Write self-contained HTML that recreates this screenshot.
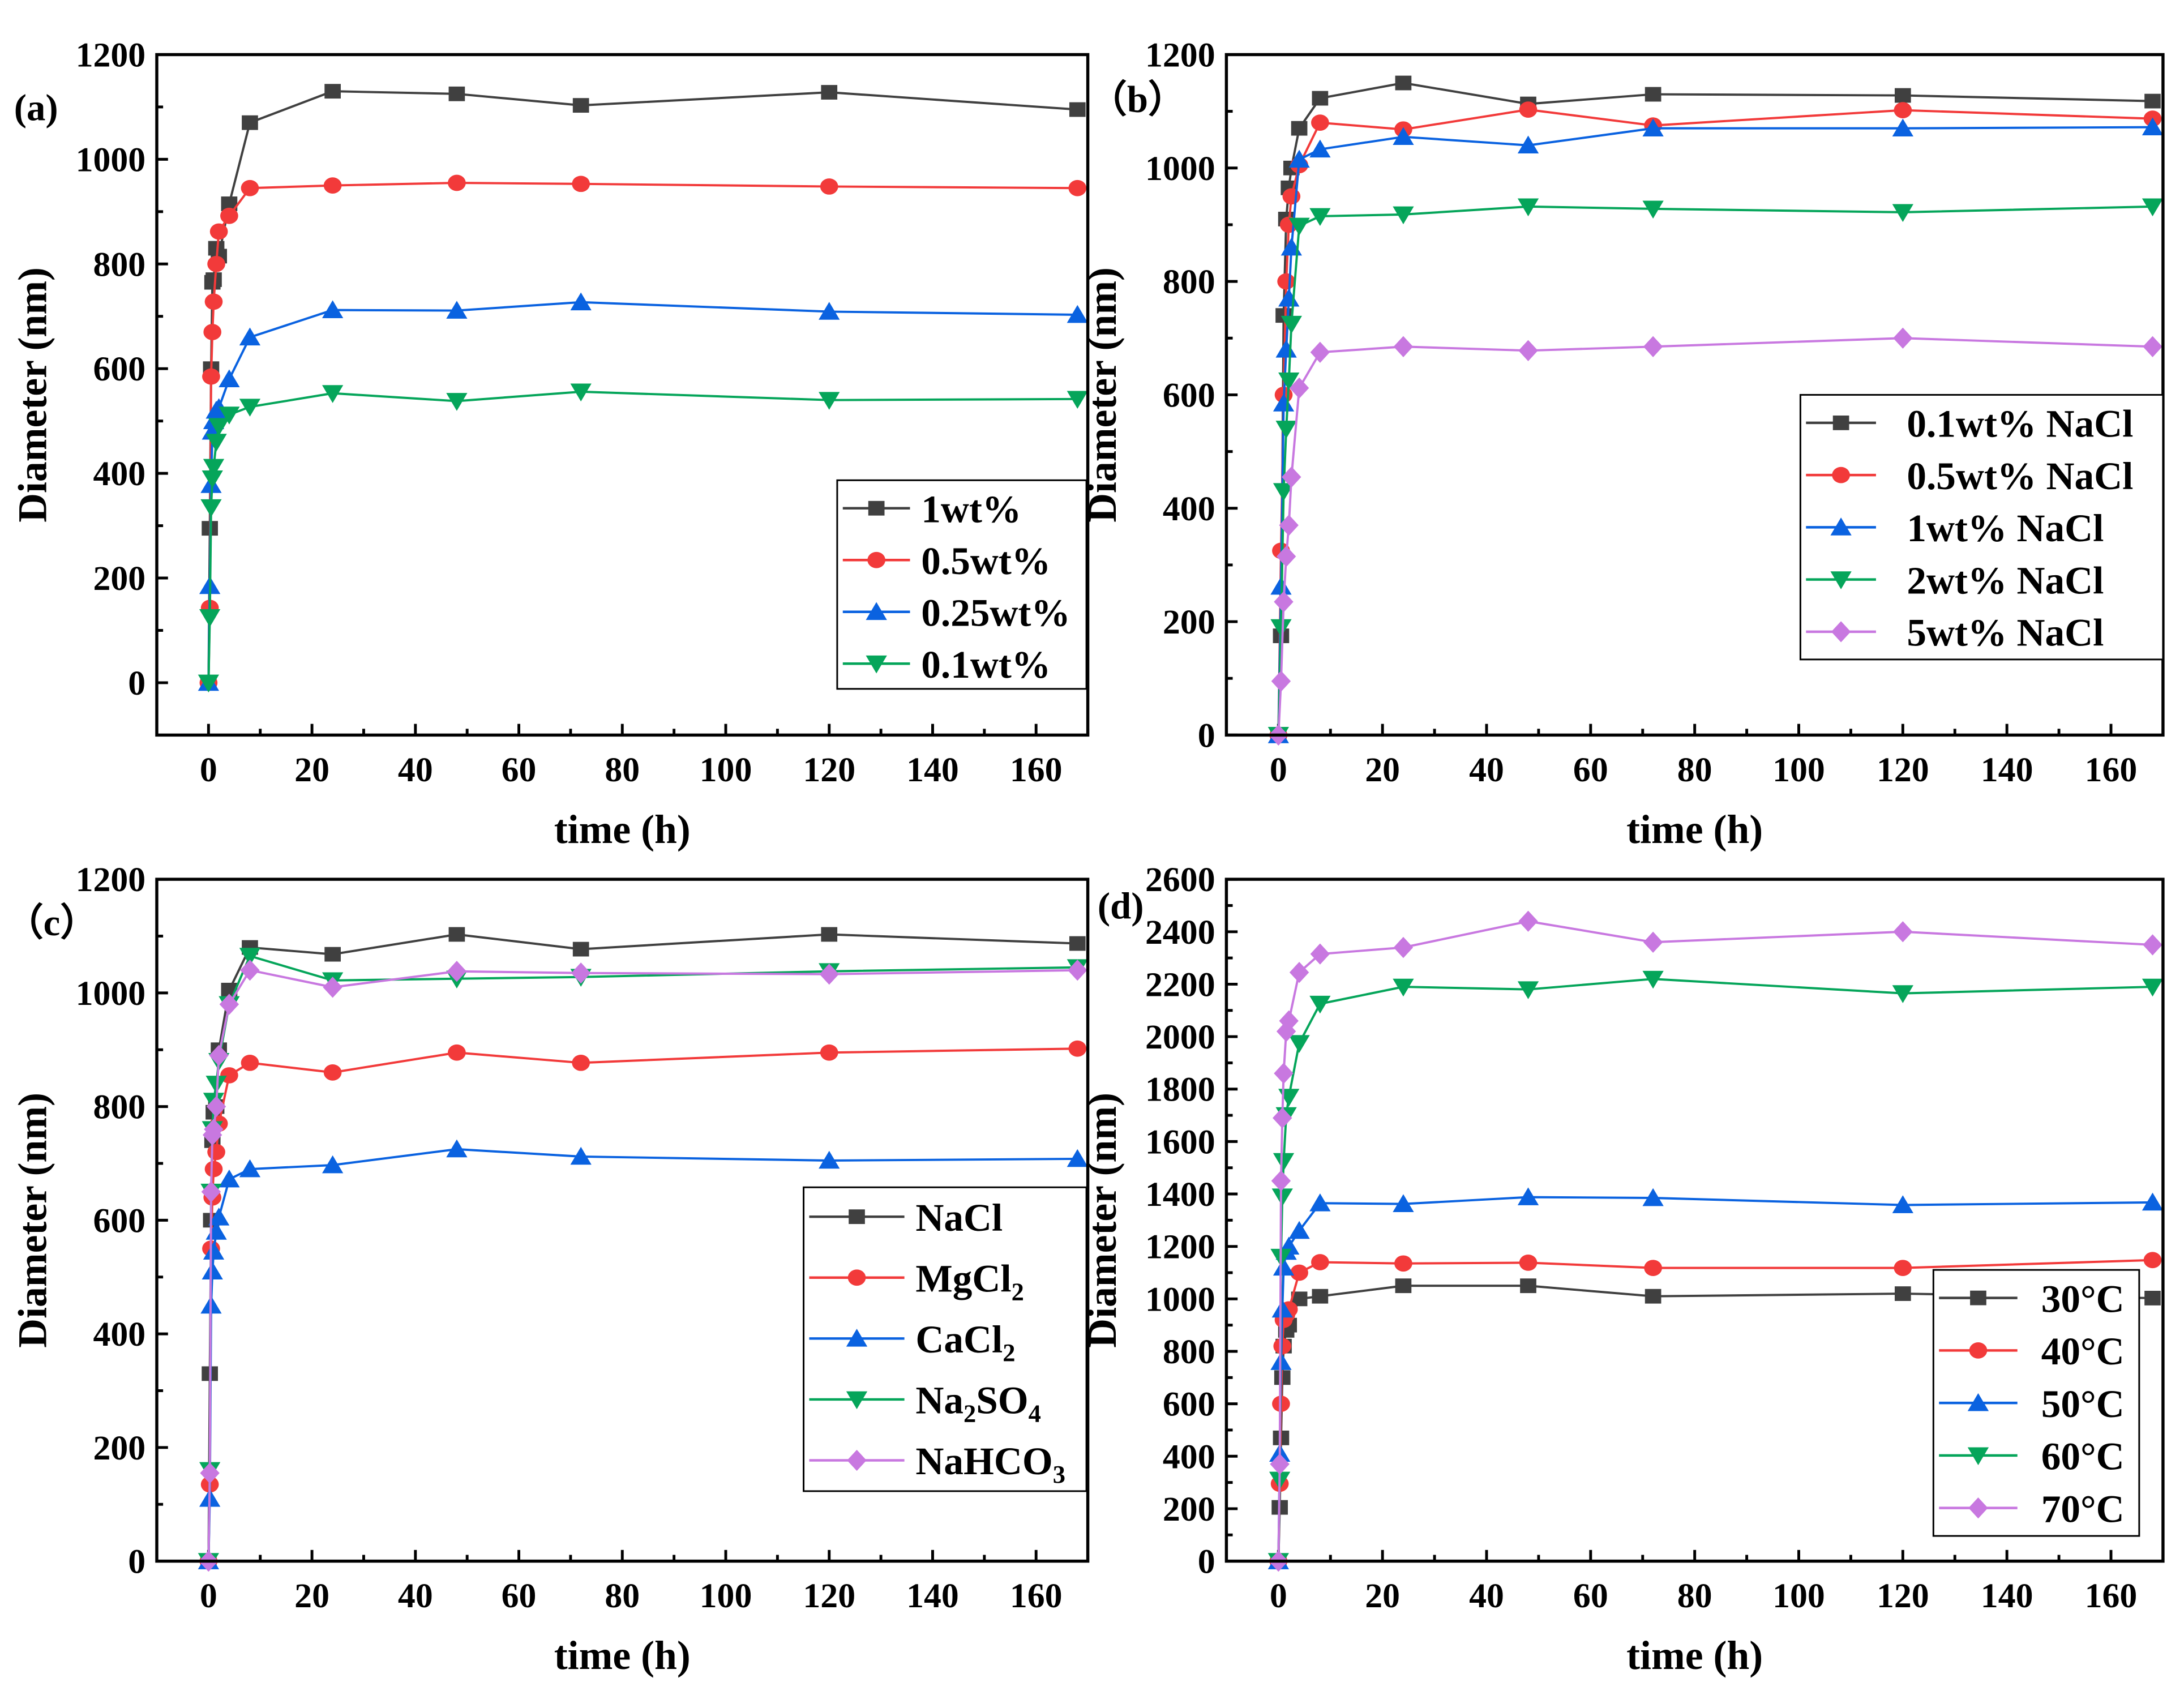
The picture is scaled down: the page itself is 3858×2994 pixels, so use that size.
<!DOCTYPE html>
<html><head><meta charset="utf-8"><style>
html,body{margin:0;padding:0;background:#fff;}
svg{display:block;}
text{font-family:"Liberation Serif",serif;font-weight:bold;fill:#000;}
</style></head><body>
<svg id="fig" width="3858" height="2994" viewBox="0 0 1560 1210.6" preserveAspectRatio="none" xmlns="http://www.w3.org/2000/svg"></svg>
<script>
const timesA = [0,0.25,0.5,0.75,1,1.5,2,4,8,24,48,72,120,168];
const a1 = [0,295,600,765,770,830,815,915,1070,1130,1125,1103,1128,1095];
const a05 = [0,143,585,670,728,800,862,892,945,950,955,953,948,945];
const a025 = [0,185,378,480,500,520,525,580,660,712,711,727,709,703];
const a01 = [0,125,335,390,412,460,490,512,527,553,538,556,540,542];

const timesB = [0,0.5,1,1.5,2,2.5,4,8,24,48,72,120,168];
const b01 = [0,175,740,910,965,1000,1070,1123,1150,1113,1130,1128,1118];
const b05 = [0,325,600,800,900,950,1005,1080,1068,1103,1075,1102,1087];
const b1 = [0,262,585,680,770,860,1015,1033,1055,1040,1070,1070,1072];
const b2 = [0,190,430,540,625,725,898,915,918,932,928,922,932];
const b5 = [0,95,235,315,370,455,612,675,685,678,685,700,685];

const timesC = [0,0.25,0.5,0.75,1,1.5,2,4,8,24,48,72,120,168];
const cNaCl = [0,330,600,740,790,800,900,1005,1080,1068,1103,1077,1103,1087];
const cMg = [0,135,550,640,690,720,770,855,877,860,895,877,895,902];
const cCa = [0,110,450,510,545,580,605,672,690,697,725,712,705,708];
const cNa2 = [0,160,650,760,810,840,880,980,1065,1022,1025,1028,1038,1045];
const cHCO = [0,155,650,750,760,800,890,980,1040,1010,1038,1035,1033,1040];

const timesD = [0,0.25,0.5,0.75,1,1.5,2,4,8,24,48,72,120,168];
const d30 = [0,205,470,700,820,880,900,1000,1010,1050,1050,1010,1020,1003];
const d40 = [0,295,600,820,920,940,960,1100,1140,1135,1138,1118,1118,1148];
const d50 = [0,410,760,960,1120,1180,1200,1260,1365,1362,1388,1385,1358,1368];
const d60 = [0,310,1160,1390,1525,1700,1770,1975,2125,2190,2180,2220,2165,2190];
const d70 = [0,370,1450,1690,1860,2020,2060,2245,2315,2340,2440,2360,2400,2350];

const yTicksSmall = [0,200,400,600,800,1000,1200];
const yTicksD = [0,200,400,600,800,1000,1200,1400,1600,1800,2000,2200,2400,2600];
const xTicks = [0,20,40,60,80,100,120,140,160];

const COL = {k:'#404040', r:'#f23a3a', b:'#0a62e0', g:'#05a55a', v:'#c878e0'};
const NS = 'http://www.w3.org/2000/svg';
const svg = document.getElementById('fig');
function el(tag, attrs, parent){
  const e = document.createElementNS(NS, tag);
  for (const k in attrs) e.setAttribute(k, attrs[k]);
  (parent||svg).appendChild(e);
  return e;
}
function marker(shape, x, y, color, g){
  const s = 5.8;
  let m;
  if (shape==='sq') m = el('rect',{x:x-s,y:y-s*0.9,width:2*s,height:1.8*s,fill:color},g);
  else if (shape==='ci') m = el('ellipse',{cx:x,cy:y,rx:s+0.6,ry:s,fill:color},g);
  else if (shape==='up') m = el('polygon',{points:`${x-s*1.3},${y+s} ${x+s*1.3},${y+s} ${x},${y-s*1.2}`,fill:color},g);
  else if (shape==='dn') m = el('polygon',{points:`${x-s*1.3},${y-s} ${x+s*1.3},${y-s} ${x},${y+s*1.2}`,fill:color},g);
  else m = el('polygon',{points:`${x-s*1.2},${y} ${x},${y-s*1.3} ${x+s*1.2},${y} ${x},${y+s*1.3}`,fill:color},g);
  return m;
}
function panel(cfg){
  const {id,L,T,R,B,ymin,ymax,yticks,series,times,label,lx,ly,leg} = cfg;
  const g = el('g',{});
  
  
  const xs = v => L + (v - (-10)) / 180 * (R - L);
  const ys = v => B - (v - ymin) / (ymax - ymin) * (B - T);
  const step = yticks[1]-yticks[0];
  yticks.forEach((v,i)=>{
    el('line',{x1:L,x2:L+8,y1:ys(v),y2:ys(v),stroke:'#000','stroke-width':2},g);
    const mv = v + step/2;
    if (mv <= ymax) el('line',{x1:L,x2:L+4.5,y1:ys(mv),y2:ys(mv),stroke:'#000','stroke-width':2},g);
    const t = el('text',{x:L-8,y:ys(v)+8.5,'text-anchor':'end','font-size':25},g);
    t.textContent = v;
    
    
  });
  xTicks.forEach(v=>{
    el('line',{x1:xs(v),x2:xs(v),y1:B,y2:B-8,stroke:'#000','stroke-width':2},g);
    if (v+10<=170) el('line',{x1:xs(v+10),x2:xs(v+10),y1:B,y2:B-4.5,stroke:'#000','stroke-width':2},g);
    const t = el('text',{x:xs(v),y:B+33,'text-anchor':'middle','font-size':25},g);
    t.textContent = v;
    
    
  });
  series.forEach(s=>{
    const sg = el('g',{},g);
    
    
    const pts = s.vals.map((v,i)=>xs(times[i])+','+ys(v)).join(' ');
    el('polyline',{points:pts,fill:'none',stroke:s.c,'stroke-width':1.6},sg);
    s.vals.forEach((v,i)=>{
      const m = marker(s.m, xs(times[i]), ys(v), s.c, sg);
      
      
    });
  });
  el('rect',{x:L,y:T,width:R-L,height:B-T,fill:'none',stroke:'#000','stroke-width':2.2},g);
  const yt = el('text',{x:0,y:0,'text-anchor':'middle','font-size':29,transform:`translate(${L-79},${(T+B)/2}) rotate(-90)`},g);
  yt.textContent = 'Diameter (nm)';
  
  
  const xt = el('text',{x:(L+R)/2,y:B+77,'text-anchor':'middle','font-size':29},g);
  xt.textContent = 'time (h)';
  
  
  const pl = el('text',{x:lx,y:ly,'font-size':27},g);
  pl.textContent = label;
  
  
  const lg = el('g',{},g);
  
  
  el('rect',{x:leg.x,y:leg.y,width:leg.w,height:leg.h,fill:'#fff',stroke:'#000','stroke-width':1.2},lg);
  series.forEach((s,i)=>{
    const y = leg.y0 + i*leg.dy;
    const e = el('g',{},lg);
    
    
    el('line',{x1:leg.x+4,x2:leg.x+4+leg.ll,y1:y,y2:y,stroke:s.c,'stroke-width':1.8},e);
    marker(s.m, leg.x+4+leg.ll/2, y, s.c, e);
    const t = el('text',{x:leg.tx,y:y+10,'font-size':28},e);
    if (s.sub){
      s.sub.forEach(p=>{
        const ts = el('tspan',p[1]?{'font-size':18,dy:6}:{dy:p[2]||0},t);
        ts.textContent = p[0];
      });
    } else t.textContent = s.name;
  });
}
panel({id:'a',L:112,T:39,R:777,B:525,ymin:-100,ymax:1200,yticks:yTicksSmall,times:timesA,label:'(a)',lx:10,ly:86,
  series:[{name:'1wt%',vals:a1,c:COL.k,m:'sq'},{name:'0.5wt%',vals:a05,c:COL.r,m:'ci'},{name:'0.25wt%',vals:a025,c:COL.b,m:'up'},{name:'0.1wt%',vals:a01,c:COL.g,m:'dn'}],
  leg:{x:598,y:343,w:178,h:149,y0:363,dy:37,ll:48,tx:658}});
panel({id:'b',L:876,T:39,R:1545,B:525,ymin:0,ymax:1200,yticks:yTicksSmall,times:timesB,label:'（b）',lx:778,ly:80,
  series:[{name:'0.1wt% NaCl',vals:b01,c:COL.k,m:'sq'},{name:'0.5wt% NaCl',vals:b05,c:COL.r,m:'ci'},{name:'1wt% NaCl',vals:b1,c:COL.b,m:'up'},{name:'2wt% NaCl',vals:b2,c:COL.g,m:'dn'},{name:'5wt% NaCl',vals:b5,c:COL.v,m:'di'}],
  leg:{x:1286,y:282,w:259,h:189,y0:302,dy:37.3,ll:50,tx:1362}});
panel({id:'c',L:112,T:628,R:777,B:1115,ymin:0,ymax:1200,yticks:yTicksSmall,times:timesC,label:'（c）',lx:4,ly:668,
  series:[{name:'NaCl',vals:cNaCl,c:COL.k,m:'sq'},
          {name:'MgCl2',vals:cMg,c:COL.r,m:'ci',sub:[['MgCl'],['2',1]]},
          {name:'CaCl2',vals:cCa,c:COL.b,m:'up',sub:[['CaCl'],['2',1]]},
          {name:'Na2SO4',vals:cNa2,c:COL.g,m:'dn',sub:[['Na'],['2',1],['SO',0,-6],['4',1]]},
          {name:'NaHCO3',vals:cHCO,c:COL.v,m:'di',sub:[['NaHCO'],['3',1]]}],
  leg:{x:574,y:848,w:202,h:217,y0:869,dy:43.5,ll:68,tx:654}});
panel({id:'d',L:876,T:628,R:1545,B:1115,ymin:0,ymax:2600,yticks:yTicksD,times:timesD,label:'(d)',lx:784,ly:656,
  series:[{name:'30°C',vals:d30,c:COL.k,m:'sq'},{name:'40°C',vals:d40,c:COL.r,m:'ci'},{name:'50°C',vals:d50,c:COL.b,m:'up'},{name:'60°C',vals:d60,c:COL.g,m:'dn'},{name:'70°C',vals:d70,c:COL.v,m:'di'}],
  leg:{x:1381,y:907,w:147,h:190,y0:927,dy:37.5,ll:56,tx:1458}});
</script>
</body></html>
